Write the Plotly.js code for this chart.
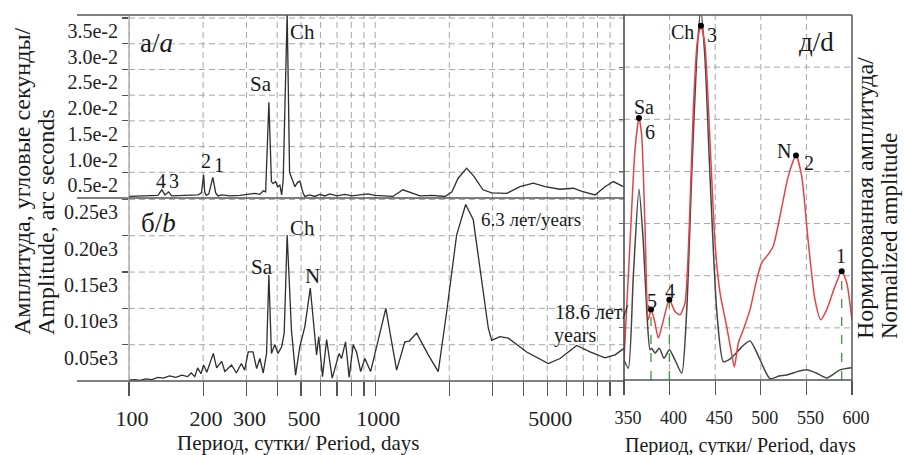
<!DOCTYPE html>
<html><head><meta charset="utf-8">
<script src="https://cdn.plot.ly/plotly-3.0.1.min.js"></script>
<style>html,body{margin:0;padding:0;background:#fff}#chart{width:904px;height:455px}</style>
</head><body><div id="chart"></div>
<script>
// ---- Panel a: amplitude (units of 1e-2 arc seconds) vs period (days)
const periodA = [100,116,131,136,140,145,149,168,191,197,201,203,206,211,219,225,230,238,257,282,304,324,340,351,359,370,379,385,394,402,410,417,423,439,449,462,472,483,494,510,518,543,569,596,624,654,699,753,804,867,934,997,1095,1180,1296,1410,1520,1701,1920,2051,2169,2352,2519,2740,2973,3421,3875,4389,4896,5633,6381,6922,7818,8583,9280,10188];
const ampA = [0.03,0.04,0.05,0.16,0.06,0.12,0.04,0.05,0.06,0.10,0.45,0.12,0.05,0.08,0.40,0.10,0.04,0.06,0.04,0.05,0.07,0.09,0.07,0.14,0.12,1.86,0.32,0.28,0.32,0.22,0.25,0.06,0.35,3.60,0.50,0.35,0.22,0.30,0.33,0.09,0.03,0.06,0.03,0.07,0.04,0.08,0.04,0.07,0.04,0.06,0.08,0.05,0.04,0.03,0.16,0.10,0.04,0.05,0.03,0.12,0.38,0.58,0.42,0.16,0.10,0.09,0.22,0.29,0.22,0.17,0.19,0.13,0.06,0.22,0.32,0.22];
const yTickValsA = [0.5,1.0,1.5,2.0,2.5,3.0,3.5];
const yTickTextA = ['0.5e-2','1.0e-2','1.5e-2','2.0e-2','2.5e-2','3.0e-2','3.5e-2'];
const yRangeA = [0, 3.56];

// ---- Panel b: amplitude (arc seconds) vs period (days)
const periodB = [100,105.5,110.5,117,124,131,138,146,155,164,173,179,185,190,196,201,207,213,220,227,238,245,261,273,286,295,305,319,330,340,351,362,370,379,391,403,417,427,439,457,475,494,518,545,565,578,590,611,635,669,714,730,758,784,814,840,873,908,958,1025,1105,1158,1222,1320,1375,1474,1643,1804,1951,2142,2331,2503,2707,2880,2973,3213,3473,4125,5050,5633,6587,7462,8583,9428,10257];
const ampB = [1,2,1,3,2,5,4,7,5,8,6,11,6,18,10,22,12,24,38,18,27,13,22,11,24,15,40,40,17,31,11,38,146,38,50,38,47,66,201,70,8,47,75,128,66,36,61,6,57,4,38,31,54,5,50,40,13,31,13,55,100,60,15,54,55,66,36,13,95,201,243,222,141,73,56,61,59,40,24,31,49,40,32,36,45];
const yTickValsB = [50,100,150,200,250];
const yTickTextB = ['0.05e3','0.10e3','0.15e3','0.20e3','0.25e3'];
const yRangeB = [0, 252];

// shared log x ticks
const xTickVals = [100,200,300,400,500,600,700,800,900,1000,2000,3000,4000,5000,6000,7000,8000,9000];
const xTickText = ['100','200','300','','500','','','','','1000','','','','5000','','','',''];
const xRangeAB = [100, 10250];

// ---- Panel d: normalized amplitude vs period (days)
const periodRed = [350,356.6,362.1,366.4,369.4,373.0,376.6,379.6,383.2,387.6,392.4,399.7,405.9,411.4,416.9,421.6,426.0,430.4,434.4,438.8,443.5,449.8,455.3,462.6,467,471,475.3,480.8,488.2,495.5,501.0,508.2,513.7,521.1,530.2,538.6,544.8,552.1,559.4,565.7,572.3,581.4,588.7,594.2,600];
const ampRed = [0.077,0.527,0.886,1.005,0.938,0.591,0.231,0.270,0.231,0.161,0.218,0.308,0.263,0.250,0.296,0.591,1.040,1.297,1.359,1.284,0.976,0.527,0.334,0.205,0.12,0.05,0.141,0.193,0.270,0.385,0.450,0.482,0.514,0.629,0.783,0.861,0.783,0.527,0.308,0.231,0.270,0.360,0.417,0.373,0.23];
const periodBlack = [350,354.8,360.2,366.4,371.2,374.9,378.5,380.4,384.0,388.7,393.9,399.7,405.9,413.3,418.8,424.2,429.7,434.1,438.8,444.3,451.6,458.9,466,472,480,488.2,495,502.7,510.1,520,528.4,538,550.3,560,572.3,586.9,600];
const ampBlack = [0.077,0.045,0.398,0.732,0.527,0.270,0.116,0.122,0.103,0.122,0.083,0.116,0.077,0.026,0.270,0.783,1.233,1.42,1.233,0.783,0.270,0.07,0.08,0.10,0.13,0.15,0.11,0.05,0.005,0.015,0.019,0.03,0.039,0.028,0.008,0.039,0.047];
const dotPeriod = [588.7,538.6,434.4,399.7,379.6,366.4];
const dotAmp = [0.417,0.861,1.359,0.308,0.270,1.005];
const dotLabel = ['1','2','3','4','5','6'];
const dotWithStem = ['1','4','5'];
const xTickValsD = [350,400,450,500,550,600];
const yTickValsD = [0.2,0.4,0.6,0.8,1.0,1.2];
const xRangeD = [350, 600];
const yRangeD = [0, 1.4];

const W = 904, H = 455;
const PX = v => v / W, PY = v => 1 - v / H;
const FONT = 'Liberation Serif, Times New Roman, serif';
const GRIDLINE = {color: '#a6a6a6', width: 1, dash: '6px,4px'};

// helpers to build dashed grid lines from tick arrays
function vGrid(vals, yr) { const x = [], y = []; vals.forEach(v => { x.push(v, v, null); y.push(yr[0], yr[1], null); }); return {x, y}; }
function hGrid(vals, xr) { const x = [], y = []; vals.forEach(v => { x.push(xr[0], xr[1], null); y.push(v, v, null); }); return {x, y}; }
function gridTrace(g, xa, ya) { return {x: g.x, y: g.y, xaxis: xa, yaxis: ya, mode: 'lines', line: GRIDLINE, hoverinfo: 'skip'}; }

// green stems from dots
const stemX = [], stemY = [];
dotLabel.forEach((l, i) => {
  if (dotWithStem.includes(l)) { stemX.push(dotPeriod[i], dotPeriod[i], null); stemY.push(0, dotAmp[i], null); }
});

const traces = [
  gridTrace(vGrid(xTickVals, yRangeA), 'x', 'y2'),
  gridTrace(hGrid(yTickValsA, xRangeAB), 'x', 'y2'),
  gridTrace(vGrid(xTickVals, yRangeB), 'x', 'y'),
  gridTrace(hGrid(yTickValsB, xRangeAB), 'x', 'y'),
  gridTrace(vGrid(xTickValsD.slice(1, -1), yRangeD), 'x2', 'y3'),
  gridTrace(hGrid(yTickValsD, xRangeD), 'x2', 'y3'),
  {x: periodA, y: ampA, xaxis: 'x', yaxis: 'y2', mode: 'lines', line: {color: '#2e2e2e', width: 1.3}, hoverinfo: 'skip'},
  {x: periodB, y: ampB, xaxis: 'x', yaxis: 'y', mode: 'lines', line: {color: '#2e2e2e', width: 1.3}, hoverinfo: 'skip'},
  {x: stemX, y: stemY, xaxis: 'x2', yaxis: 'y3', mode: 'lines', line: {color: '#3c9a3c', width: 1.3, dash: 'dash'}, hoverinfo: 'skip'},
  {x: periodBlack, y: ampBlack, xaxis: 'x2', yaxis: 'y3', mode: 'lines', line: {color: '#444', width: 1.5, shape: 'spline', smoothing: 0.6}, hoverinfo: 'skip'},
  {x: periodRed, y: ampRed, xaxis: 'x2', yaxis: 'y3', mode: 'lines', line: {color: '#e2434b', width: 1.5, shape: 'spline', smoothing: 0.6}, hoverinfo: 'skip'},
  {x: dotPeriod, y: dotAmp, xaxis: 'x2', yaxis: 'y3', mode: 'markers', marker: {color: '#000', size: 6}, hoverinfo: 'skip'}
];

const yCommon = {
  ticks: 'outside', ticklen: 6, tickcolor: '#555', tickwidth: 1.2, showgrid: false, zeroline: false, showline: false,
  tickfont: {size: 20, family: FONT, color: '#222'}, ticklabelshift: 13, fixedrange: true
};

const layout = {
  width: W, height: H, margin: {l: 0, r: 0, t: 0, b: 0},
  paper_bgcolor: '#fff', plot_bgcolor: 'rgba(0,0,0,0)', showlegend: false,
  font: {family: FONT, color: '#222'},
  xaxis: {
    type: 'log', domain: [PX(129), PX(624)], range: xRangeAB.map(Math.log10), anchor: 'y',
    tickmode: 'array', tickvals: xTickVals, ticktext: xTickText,
    ticks: 'outside', ticklen: 14, tickcolor: '#555', tickwidth: 1.2, showgrid: false,
    zeroline: false, showline: false, tickfont: {size: 22, family: FONT, color: '#222'},
    ticklabelstandoff: 4, ticklabelshift: 3, fixedrange: true
  },
  yaxis: Object.assign({}, yCommon, {domain: [PY(381), PY(198)], range: yRangeB, anchor: 'x',
    tickmode: 'array', tickvals: yTickValsB, ticktext: yTickTextB}),
  yaxis2: Object.assign({}, yCommon, {domain: [PY(198), PY(15)], range: yRangeA, anchor: 'x',
    tickmode: 'array', tickvals: yTickValsA, ticktext: yTickTextA}),
  xaxis2: {
    domain: [PX(624), PX(852)], range: xRangeD, anchor: 'y3',
    tickmode: 'array', tickvals: xTickValsD, ticks: 'outside', ticklen: 14, tickcolor: '#555', tickwidth: 1.2,
    showgrid: false, zeroline: false, showline: false, tickfont: {size: 18, family: FONT, color: '#222'},
    ticklabelstandoff: 7, ticklabelshift: 4, fixedrange: true
  },
  yaxis3: {
    domain: [PY(380), PY(15)], range: yRangeD, anchor: 'x2', tickmode: 'array', tickvals: yTickValsD,
    showticklabels: false, ticks: 'outside', ticklen: 4, tickcolor: '#666', showgrid: false, zeroline: false, showline: false, fixedrange: true
  },
  shapes: [
    [77, 15, 852, 15, '#555', 1.5],
    [77, 198, 624, 198, '#555', 1.5],
    [77, 381, 624, 381, '#555', 1.5],
    [624, 380, 852, 380, '#555', 1.5],
    [129, 15, 129, 381, '#888', 1],
    [624, 15, 624, 381, '#444', 1.5],
    [852, 15, 852, 381, '#555', 1.5]
  ].map(s => ({type: 'line', xref: 'paper', yref: 'paper', x0: PX(s[0]), y0: PY(s[1]), x1: PX(s[2]), y1: PY(s[3]),
               line: {color: s[4], width: s[5]}, layer: 'above'})),
  annotations: []
};

function txt(t, x, y, size, opts) {
  layout.annotations.push(Object.assign({text: t, x: PX(x), y: PY(y), xref: 'paper', yref: 'paper',
    showarrow: false, xanchor: 'center', yanchor: 'middle', font: {size: size, family: FONT, color: '#1a1a1a'}}, opts || {}));
}
// panel labels
txt('а/<i>a</i>', 156, 43, 27);
txt('б/<i>b</i>', 158, 223, 27);
txt('д/d', 816, 42, 27);
// peaks, panel a
txt('Ch', 302, 32, 21); txt('Sa', 261, 84, 21);
txt('2', 206, 161, 20); txt('1', 219, 165, 20);
txt('4', 161, 181, 20); txt('3', 174, 181, 20);
// peaks, panel b
txt('Sa', 262, 267, 21); txt('Ch', 302, 228, 21); txt('N', 312, 276, 21);
txt('6.3 лет/years', 479, 219, 19, {xanchor: 'left'});
txt('18.6 лет/', 553, 312, 20, {xanchor: 'left'});
txt('years', 552, 335, 20, {xanchor: 'left'});
// panel d
txt('Sa', 644, 107, 20); txt('6', 650, 132, 20);
txt('Ch', 682, 32, 20); txt('3', 712, 35, 20);
txt('N', 784, 151, 20); txt('2', 809, 163, 20);
txt('1', 841, 256, 20); txt('5', 652, 301, 20); txt('4', 670, 291, 20);
// axis titles
txt('Период, сутки/ Period, days', 298, 443, 21);
txt('Период, сутки/ Period, days', 740, 445, 20);
txt('Амплитуда, угловые секунды/', 22, 337, 24, {textangle: -90, yanchor: 'bottom'});
txt('Amplitude, arc seconds', 46, 337, 24, {textangle: -90, yanchor: 'bottom'});
txt('Нормированная амплитуда/', 865, 341, 24, {textangle: -90, yanchor: 'bottom'});
txt('Normalized amplitude', 889, 341, 23, {textangle: -90, yanchor: 'bottom'});

Plotly.newPlot('chart', traces, layout, {staticPlot: true, displayModeBar: false});
</script>
</body></html>
